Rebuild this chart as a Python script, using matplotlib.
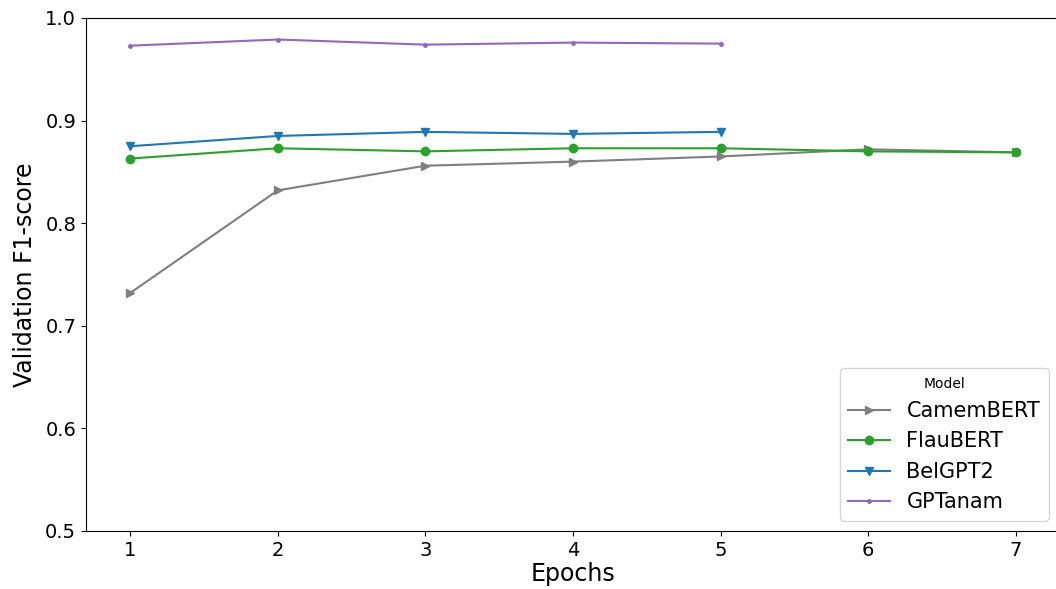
import numpy as np
import matplotlib
matplotlib.use('Agg')
import matplotlib.pyplot as plt

epochs7 = [1, 2, 3, 4, 5, 6, 7]
epochs5 = [1, 2, 3, 4, 5]

camembert = [0.732, 0.832, 0.856, 0.860, 0.865, 0.872, 0.869]
flaubert = [0.863, 0.873, 0.870, 0.873, 0.873, 0.870, 0.869]
belgpt2 = [0.875, 0.885, 0.889, 0.887, 0.889]
gptanam = [0.973, 0.979, 0.974, 0.976, 0.975]

fig = plt.figure(figsize=(10.56, 5.89), dpi=100)
ax = fig.add_axes([0.0814, 0.0985, 0.9223, 0.871])

ax.plot(epochs7, camembert, marker='>', color='tab:gray', label='CamemBERT', markersize=6)
ax.plot(epochs7, flaubert, marker='o', color='tab:green', label='FlauBERT', markersize=6)
ax.plot(epochs5, belgpt2, marker='v', color='tab:blue', label='BelGPT2', markersize=6)
ax.plot(epochs5, gptanam, marker='.', color='tab:purple', label='GPTanam', markersize=5)

ax.set_xlim(0.7, 7.3)
ax.set_ylim(0.5, 1.0)
ax.set_xticks(epochs7)
ax.set_yticks(np.arange(0.5, 1.01, 0.1))
ax.tick_params(labelsize=14)
ax.set_xlabel('Epochs', fontsize=17, labelpad=2)
ax.set_ylabel('Validation F1-score', fontsize=17, labelpad=6)

leg = ax.legend(title='Model', fontsize=15, title_fontsize=10, loc='lower right',
                bbox_to_anchor=(0.999, 0.0))

fig.savefig('out.png', dpi=100)
